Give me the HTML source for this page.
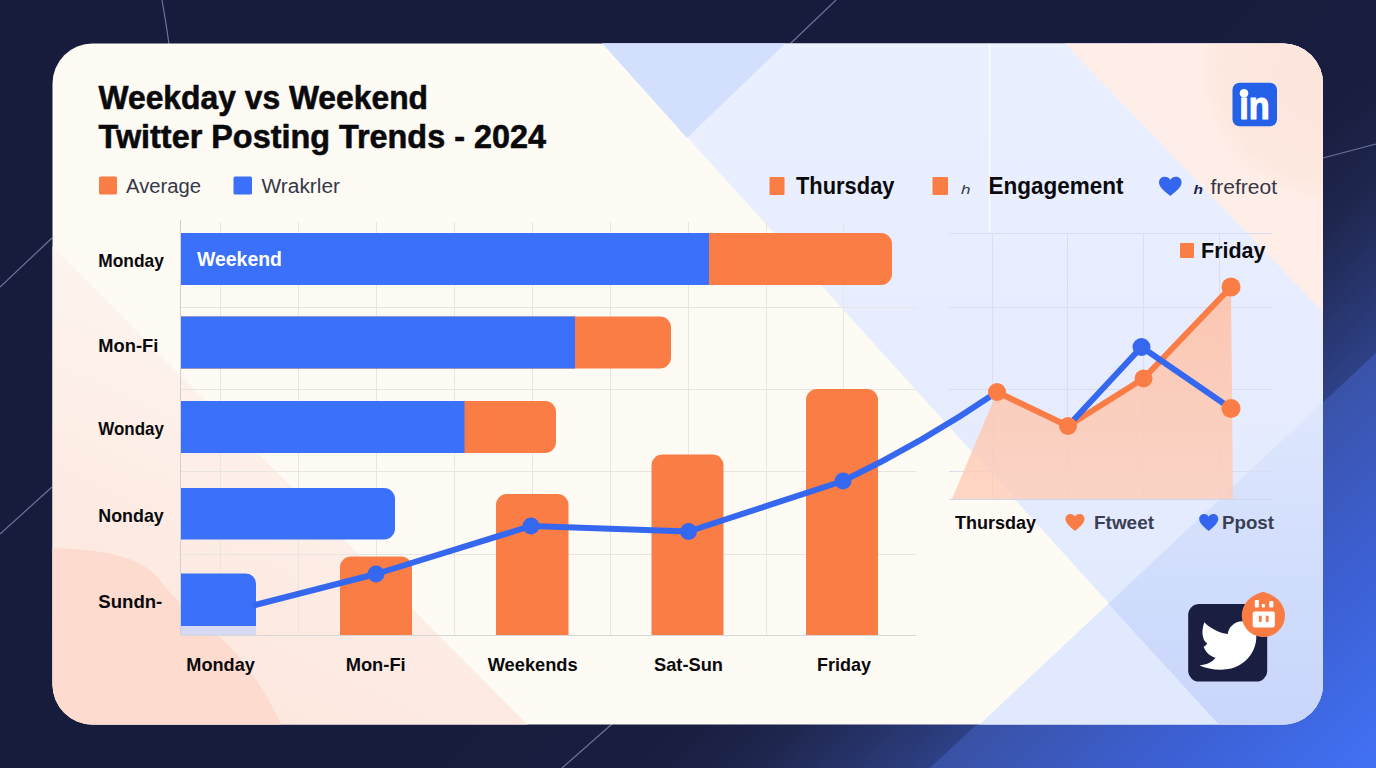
<!DOCTYPE html>
<html lang="en">
<head>
<meta charset="utf-8">
<title>Weekday vs Weekend Twitter Posting Trends - 2024</title>
<style>
  html, body { margin: 0; padding: 0; background: #181c3c; }
  body { width: 1376px; height: 768px; overflow: hidden; }
  svg { display: block; }
  text { font-family: "Liberation Sans", Arial, Helvetica, sans-serif; }
  .b { font-weight: 700; fill: #0a0a0d; }
  .m { font-weight: 700; fill: #3a3f53; }
  .r { font-weight: 400; fill: #343848; }
</style>
</head>
<body>
<svg width="1376" height="768" viewBox="0 0 1376 768">
  <defs>
    <linearGradient id="bgGrad" gradientUnits="userSpaceOnUse" x1="1153" y1="560" x2="880" y2="270">
      <stop offset="0" stop-color="#2e4086"/>
      <stop offset="0.14" stop-color="#27346c"/>
      <stop offset="0.33" stop-color="#1e254b"/>
      <stop offset="0.52" stop-color="#191d3f"/>
      <stop offset="1" stop-color="#181c3c"/>
    </linearGradient>
    <linearGradient id="bgBand" gradientUnits="userSpaceOnUse" x1="1153" y1="560" x2="1376" y2="790">
      <stop offset="0" stop-color="#3a52a6"/>
      <stop offset="0.45" stop-color="#3c5fd2"/>
      <stop offset="1" stop-color="#4273f8"/>
    </linearGradient>
    <linearGradient id="peachL" gradientUnits="userSpaceOnUse" x1="230" y1="330" x2="60" y2="700">
      <stop offset="0" stop-color="#fdf4ee"/>
      <stop offset="0.55" stop-color="#fdebe3"/>
      <stop offset="1" stop-color="#fde6dd"/>
    </linearGradient>
    <linearGradient id="blueR" gradientUnits="userSpaceOnUse" x1="1250" y1="420" x2="1250" y2="725">
      <stop offset="0" stop-color="#dde6fd"/>
      <stop offset="0.5" stop-color="#d1ddfc"/>
      <stop offset="1" stop-color="#c9d6fb"/>
    </linearGradient>
    <linearGradient id="areaFill" gradientUnits="userSpaceOnUse" x1="1100" y1="287" x2="1100" y2="499">
      <stop offset="0" stop-color="#ffc0a5" stop-opacity="0.86"/>
      <stop offset="1" stop-color="#ffcdb8" stop-opacity="0.8"/>
    </linearGradient>
    <radialGradient id="peachTR" gradientUnits="userSpaceOnUse" cx="1330" cy="70" r="130">
      <stop offset="0" stop-color="#fcdfd3" stop-opacity="0.6"/>
      <stop offset="0.85" stop-color="#fcdfd3" stop-opacity="0.4"/>
      <stop offset="1" stop-color="#fcdfd3" stop-opacity="0"/>
    </radialGradient>
    <linearGradient id="blueTop" gradientUnits="userSpaceOnUse" x1="900" y1="44" x2="900" y2="620">
      <stop offset="0" stop-color="#eaf0ff"/>
      <stop offset="0.5" stop-color="#e7edfe"/>
      <stop offset="1" stop-color="#e2eafe"/>
    </linearGradient>
    <clipPath id="cardClip">
      <rect x="52.5" y="43.5" width="1270.5" height="681" rx="40" ry="40"/>
    </clipPath>
  </defs>

  <!-- ===== page background ===== -->
  <rect id="bg" x="0" y="0" width="1376" height="768" fill="#181c3c"/>
  <rect x="0" y="0" width="1376" height="768" fill="url(#bgGrad)"/>
  <polygon points="930,768 1376,353 1376,768" fill="url(#bgBand)"/>
  <!-- thin decorative lines -->
  <g stroke="#8591bd" stroke-width="1.2" fill="none" opacity="0.75">
    <path d="M162,0 Q166,22 169,44"/>
    <path d="M0,287 L52,238"/>
    <path d="M0,534 L52,487"/>
    <path d="M790,44 L836,0"/>
    <path d="M1323,158 L1376,144"/>
    <path d="M562,768 L612,724"/>
  </g>

  <!-- ===== card ===== -->
  <g id="card" clip-path="url(#cardClip)">
    <rect x="52" y="43" width="1272" height="682" fill="#fefaf4"/>
    <!-- right light-blue field -->
    <polygon points="602,43 1324,43 1324,725 1219,725" fill="url(#blueTop)"/>
    <polygon points="1108,604 1324,401 1324,725 1219,725" fill="url(#blueR)"/>
    <polygon points="979,725 1108,604 1219,725" fill="#e0e9fe"/>
    <!-- top blue triangle -->
    <polygon points="602,43 786,43 687,138" fill="#d3e0fd"/>
    <!-- top-right peach -->
    <polygon points="1064.500,43 1324,43 1324,313" fill="#feeee7"/>
    <circle cx="1330" cy="70" r="130" fill="url(#peachTR)"/>
    <!-- left peach -->
    <polygon points="52,246 528,725 52,725" fill="url(#peachL)"/>
    <path d="M52,548 C100,549 140,556 158,578 C175,600 200,622 222,639 C245,660 268,695 281,725 L52,725 Z" fill="#fddbce"/>
  </g>

  <!-- ===== main chart grid ===== -->
  <g id="grid" stroke="#e9e5e1" stroke-width="1" fill="none" shape-rendering="crispEdges">
    <path d="M220.5,222V635 M298.5,222V635 M376.5,222V635 M454.5,222V635 M532.5,222V635 M610.5,222V635 M688.5,222V635 M766.5,222V635 M843.5,222V635"/>
    <path d="M181,307.5H916 M181,389.5H916 M181,471.5H916 M181,554.5H916"/>
    <path d="M181,635.5H916" stroke="#d9d6d6"/>
    <path d="M180.5,220V635" stroke="#d2cfcd"/>
  </g>

  <!-- ===== horizontal stacked bars ===== -->
  <g id="hbars">
    <path d="M181,233H881a11,11 0 0 1 11,11V274a11,11 0 0 1 -11,11H181Z" fill="#fa7d45"/>
    <rect x="181" y="233" width="528" height="52" fill="#3b70fa"/>
    <path d="M181,316.500H660a11,11 0 0 1 11,11V357.500a11,11 0 0 1 -11,11H181Z" fill="#fa7d45"/>
    <rect x="181" y="316.500" width="394" height="52" fill="#3b70fa"/>
    <path d="M181,401H545a11,11 0 0 1 11,11V442a11,11 0 0 1 -11,11H181Z" fill="#fa7d45"/>
    <rect x="181" y="401" width="283.500" height="52" fill="#3b70fa"/>
    <path d="M181,488H384a11,11 0 0 1 11,11V528.500a11,11 0 0 1 -11,11H181Z" fill="#3b70fa"/>
    <rect x="181" y="626" width="75" height="9" fill="#d5d9f3"/>
    <path d="M181,573.500H246a10,10 0 0 1 10,10V626H181Z" fill="#3b70fa"/>
  </g>

  <!-- ===== vertical bars ===== -->
  <g id="vbars" fill="#fa7d45">
    <path d="M340,635V567.500a11,11 0 0 1 11,-11H401a11,11 0 0 1 11,11V635Z"/>
    <path d="M496,635V505a11,11 0 0 1 11,-11H557.500a11,11 0 0 1 11,11V635Z"/>
    <path d="M651.500,635V465.500a11,11 0 0 1 11,-11H712.500a11,11 0 0 1 11,11V635Z"/>
    <path d="M806,635V400a11,11 0 0 1 11,-11H867a11,11 0 0 1 11,11V635Z"/>
  </g>

  <!-- ===== right line chart ===== -->
  <g id="rgrid" stroke="#d9def0" stroke-width="1" fill="none" shape-rendering="crispEdges">
    <path d="M949,233.500H1273 M949,307.500H1273 M949,389.500H1273 M949,471.500H1273"/>
    <path d="M992.500,233V499 M1067.500,233V499 M1143.500,233V499 M1219.500,233V499"/>
    <path d="M949,499.500H1273" stroke="#cfd5ea"/>
  </g>
  <path d="M989.500,44V232" stroke="#ffffff" stroke-opacity="0.85" stroke-width="1.500" fill="none"/>
  <polygon points="952,499 997,392 1068,426 1143.500,378.500 1231,287 1233,499" fill="url(#areaFill)"/>
  <!-- long blue trend line -->
  <path d="M255,605 L376,574 L531,526 L688.500,531.500 L843,481 Q923,442.500 997,392" fill="none" stroke="#3668ef" stroke-width="6" stroke-linejoin="round" stroke-linecap="round"/>
  <polyline points="997,392 1068,426 1143.500,378.500 1231,287" fill="none" stroke="#fa7d45" stroke-width="6" stroke-linejoin="round" stroke-linecap="round"/>
  <polyline points="1068,426 1141.500,347 1231,408.500" fill="none" stroke="#3668ef" stroke-width="6" stroke-linejoin="round" stroke-linecap="round"/>
  <g fill="#3668ef">
    <circle cx="376" cy="574" r="8.500"/>
    <circle cx="531" cy="526" r="8.500"/>
    <circle cx="688.500" cy="531.500" r="8.500"/>
    <circle cx="843" cy="481" r="8.500"/>
    <circle cx="1141.500" cy="347" r="9"/>
  </g>
  <g fill="#fa7d45">
    <circle cx="997" cy="392" r="9"/>
    <circle cx="1068" cy="426" r="9"/>
    <circle cx="1143.500" cy="378.500" r="9"/>
    <circle cx="1231" cy="287" r="9.500"/>
    <circle cx="1231" cy="408.500" r="9.500"/>
  </g>

  <!-- ===== texts ===== -->
  <g id="title" class="b" stroke="#0a0a0d" stroke-width="0.6" stroke-linejoin="round">
    <text x="98.500" y="109.200" font-size="33.500" textLength="329.500" lengthAdjust="spacingAndGlyphs">Weekday vs Weekend</text>
    <text x="98.500" y="148.200" font-size="32.500" textLength="447.500" lengthAdjust="spacingAndGlyphs">Twitter Posting Trends - 2024</text>
  </g>

  <g id="legendL">
    <rect x="99" y="176.500" width="18" height="18" rx="1.500" fill="#fa7d45"/>
    <text class="r" x="126" y="193" font-size="20" textLength="75" lengthAdjust="spacingAndGlyphs">Average</text>
    <rect x="233.500" y="176.500" width="18.500" height="18" rx="1.500" fill="#3b70fa"/>
    <text class="r" x="261.500" y="193" font-size="20" textLength="78.500" lengthAdjust="spacingAndGlyphs">Wrakrler</text>
  </g>

  <g id="legendR">
    <rect x="769.500" y="177" width="15" height="18" rx="1" fill="#fa7d45"/>
    <text class="b" x="796" y="194" font-size="23" textLength="98.500" lengthAdjust="spacingAndGlyphs">Thursday</text>
    <rect x="932.500" y="177" width="15.500" height="18" rx="1" fill="#fa7d45"/>
    <text class="r" x="961" y="194" font-size="13.500" font-style="italic" textLength="9.500" lengthAdjust="spacingAndGlyphs">h</text>
    <text class="b" x="988.500" y="194" font-size="23" textLength="135" lengthAdjust="spacingAndGlyphs">Engagement</text>
    <path id="heartB1" d="M1170.300,196 C1166,192.500 1159,187.500 1159,182.500 C1159,178.800 1161.800,176.800 1164.800,176.800 C1167.200,176.800 1169.200,178 1170.300,180 C1171.400,178 1173.400,176.800 1175.800,176.800 C1178.800,176.800 1181.600,178.800 1181.600,182.500 C1181.600,187.500 1174.600,192.500 1170.300,196 Z" fill="#3365ee"/>
    <text class="r" x="1193.500" y="193.500" font-size="13.500" font-style="italic" font-weight="700" style="font-weight:700;fill:#1d2347" textLength="9.500" lengthAdjust="spacingAndGlyphs">h</text>
    <text class="r" x="1210.500" y="194" font-size="20" textLength="66.500" lengthAdjust="spacingAndGlyphs">frefreot</text>
  </g>

  <g id="legendFri">
    <rect x="1180" y="243" width="14" height="15" rx="1" fill="#fa7d45"/>
    <text class="b" x="1201" y="258.300" font-size="22.500" textLength="64.500" lengthAdjust="spacingAndGlyphs">Friday</text>
  </g>

  <text x="197" y="266" font-size="19.500" font-weight="700" fill="#ffffff" textLength="85" lengthAdjust="spacingAndGlyphs">Weekend</text>

  <g id="ylabels" class="b" font-size="18.500">
    <text x="98.300" y="266.800" textLength="65.500" lengthAdjust="spacingAndGlyphs">Monday</text>
    <text x="98.300" y="351.500" textLength="60" lengthAdjust="spacingAndGlyphs">Mon-Fi</text>
    <text x="98.300" y="435.300" textLength="65.500" lengthAdjust="spacingAndGlyphs">Wonday</text>
    <text x="98.300" y="522" textLength="65.500" lengthAdjust="spacingAndGlyphs">Nonday</text>
    <text x="98.300" y="608.300" textLength="64" lengthAdjust="spacingAndGlyphs">Sundn-</text>
  </g>

  <g id="xlabels" class="b" font-size="19">
    <text x="186.300" y="670.700" textLength="68.500" lengthAdjust="spacingAndGlyphs">Monday</text>
    <text x="345.700" y="670.700" textLength="60" lengthAdjust="spacingAndGlyphs">Mon-Fi</text>
    <text x="487.700" y="670.700" textLength="90" lengthAdjust="spacingAndGlyphs">Weekends</text>
    <text x="654" y="670.700" textLength="69" lengthAdjust="spacingAndGlyphs">Sat-Sun</text>
    <text x="817" y="670.700" textLength="54" lengthAdjust="spacingAndGlyphs">Friday</text>
  </g>

  <g id="legendB">
    <text class="b" x="955" y="529" font-size="19" textLength="81" lengthAdjust="spacingAndGlyphs">Thursday</text>
    <path id="heartO" d="M1075,531 C1071.500,528 1065.500,523.500 1065.500,519 C1065.500,515.800 1067.900,514 1070.400,514 C1072.400,514 1074.100,515 1075,516.800 C1075.900,515 1077.600,514 1079.600,514 C1082.100,514 1084.500,515.800 1084.500,519 C1084.500,523.500 1078.500,528 1075,531 Z" fill="#fa7d45"/>
    <text class="m" x="1094" y="529" font-size="18.500" textLength="60" lengthAdjust="spacingAndGlyphs">Ftweet</text>
    <path id="heartB2" d="M1208.700,531 C1205.200,528 1199.200,523.500 1199.200,519 C1199.200,515.800 1201.600,514 1204.100,514 C1206.100,514 1207.800,515 1208.700,516.800 C1209.600,515 1211.300,514 1213.300,514 C1215.800,514 1218.200,515.800 1218.200,519 C1218.200,523.500 1212.200,528 1208.700,531 Z" fill="#3365ee"/>
    <text class="m" x="1222" y="529" font-size="18.500" textLength="52" lengthAdjust="spacingAndGlyphs">Ppost</text>
  </g>

  <!-- ===== LinkedIn icon ===== -->
  <g id="linkedin">
    <rect x="1232.500" y="82.700" width="44.500" height="43.500" rx="7" fill="#2460e8"/>
    <text x="1239.300" y="118.700" font-size="38" font-weight="700" fill="#ffffff" stroke="#ffffff" stroke-width="1.1" stroke-linejoin="round" textLength="30.500" lengthAdjust="spacingAndGlyphs">in</text>
    <circle cx="1244" cy="93.200" r="4.300" fill="#ffffff"/>
  </g>

  <!-- ===== Twitter icon ===== -->
  <g id="twitter">
    <rect x="1188.200" y="604" width="79" height="77.600" rx="11" fill="#1a1f41"/>
    <g transform="translate(1176,586) scale(0.13812)">
      <path d="M205,262 C245,305 315,340 375,348 C378,300 425,255 480,255 C530,255 575,290 580,345 C592,450 525,560 400,598 C320,616 230,602 170,575 C220,572 262,552 287,520 C250,510 215,482 200,440 C210,438 220,428 226,415 C195,398 178,335 205,262 Z" fill="#ffffff"/>
    </g>
    <path d="M1263.300,591.800 C1266,593 1270,593.800 1274,596.500 C1281,601 1285,608 1285,615.500 C1285,627.500 1275.300,637 1263.500,637 C1251.500,637 1241.800,627.500 1241.800,615.500 C1241.800,608 1245.500,601 1252.500,596.500 C1256.500,593.800 1260.500,593 1263.300,591.800 Z" fill="#f97c45"/>
    <rect x="1252.700" y="611.600" width="22.100" height="15.800" rx="1.800" fill="#ffffff"/>
    <rect x="1258.900" y="615.700" width="2.800" height="6.200" fill="#f97c45"/>
    <rect x="1265.800" y="615.700" width="2.800" height="6.200" fill="#f97c45"/>
    <rect x="1254.800" y="600" width="4.100" height="7.500" rx="1.200" fill="#ffffff"/>
    <rect x="1269.300" y="601" width="4.100" height="6.500" rx="1.200" fill="#ffffff"/>
    <rect x="1261.800" y="604" width="3.200" height="3.500" rx="0.800" fill="#ffffff"/>
  </g>
</svg>
</body>
</html>
